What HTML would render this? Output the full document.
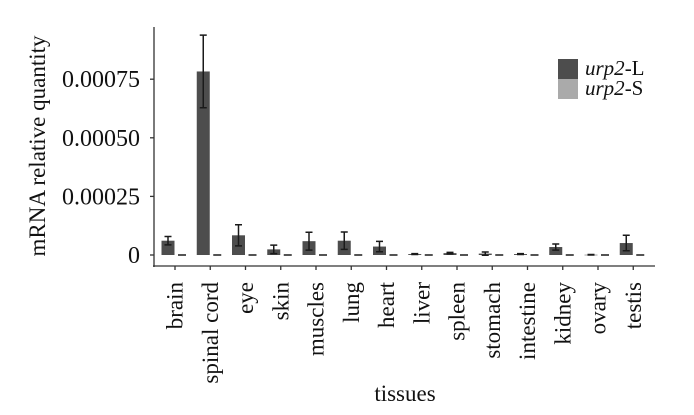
<!DOCTYPE html>
<html><head><meta charset="utf-8"><style>
body{margin:0;background:#fff;}
svg{display:block;font-family:"Liberation Serif",serif;}
</style></head><body>
<svg id="chart" width="694" height="415" viewBox="0 0 694 415">
<g id="plot"></g>
</svg>
<script>
const categories=["brain","spinal cord","eye","skin","muscles","lung","heart","liver","spleen","stomach","intestine","kidney","ovary","testis"];
const seriesL=[6.1e-5,7.83e-4,8.4e-5,2.4e-5,5.9e-5,6.1e-5,3.6e-5,4e-6,8e-6,6e-6,4e-6,3.4e-5,1e-6,5.1e-5];
const errL=[1.8e-5,1.55e-4,4.5e-5,1.8e-5,3.8e-5,3.7e-5,2.2e-5,2e-6,3e-6,7e-6,2e-6,1.3e-5,1e-6,3.3e-5];
const seriesS=[0,0,0,0,0,0,0,0,0,0,0,0,0,0];
const yTicks=[0,0.00025,0.0005,0.00075];
const yTickLabels=["0","0.00025","0.00050","0.00075"];
const NS="http://www.w3.org/2000/svg";
const g=document.getElementById('plot');
const x0=154,x1=655,yTop=27,yAxis=266;
const y=v=>255-v*(58.6/0.00025);
const xc=i=>175+i*35.25;
function mk(t,a){const e=document.createElementNS(NS,t);for(const k in a)e.setAttribute(k,a[k]);g.appendChild(e);return e;}
let ax=mk('line',{x1:x0,y1:yTop,x2:x0,y2:yAxis+1,stroke:'#333','stroke-width':1.3});


ax=mk('line',{x1:x0-1,y1:yAxis,x2:x1,y2:yAxis,stroke:'#333','stroke-width':1.3});


yTicks.forEach((v,i)=>{
  const t=mk('line',{x1:x0-4,y1:y(v),x2:x0,y2:y(v),stroke:'#333','stroke-width':1.3});
  
  
  const l=mk('text',{x:140,y:y(v)+8,'text-anchor':'end','font-size':24,fill:'#111'});
  l.textContent=yTickLabels[i];
  
  
});
categories.forEach((c,i)=>{
  const cx=xc(i);
  const t=mk('line',{x1:cx,y1:yAxis,x2:cx,y2:yAxis+4,stroke:'#333','stroke-width':1.3});
  
  
  const l=mk('text',{x:0,y:0,'text-anchor':'end','font-size':23,fill:'#111',transform:`translate(${cx+7.5},282) rotate(-90)`});
  l.textContent=c;
  
  
  const v=seriesL[i];
  const b=mk('rect',{x:cx-13.5,y:y(v),width:13,height:Math.max(255-y(v),0.5),fill:'#4d4d4d'});
  
  
  const e=errL[i],ex=cx-7;
  const eb=mk('path',{d:`M${ex},${y(v+e)}V${y(v-e)}M${ex-3.5},${y(v+e)}H${ex+3.5}M${ex-3.5},${y(v-e)}H${ex+3.5}`,stroke:'#1a1a1a','stroke-width':1.5,fill:'none'});
  
  
  const s=seriesS[i];
  const sb=mk('rect',{x:cx+0.5,y:y(s),width:13,height:Math.max(255-y(s),0),fill:'#aaaaaa'});
  
  
  const sd=mk('line',{x1:cx+3,y1:y(s),x2:cx+11,y2:y(s),stroke:'#1a1a1a','stroke-width':1.5});
  
  
});
let tt=mk('text',{x:0,y:0,'text-anchor':'middle','font-size':23,fill:'#111',transform:'translate(45,146) rotate(-90)'});
tt.textContent='mRNA relative quantity';


tt=mk('text',{x:405,y:401,'text-anchor':'middle','font-size':23,fill:'#111'});
tt.textContent='tissues';


const leg=[['urp2','-L','#4d4d4d',59],['urp2','-S','#aaaaaa',79]];
leg.forEach(([a,b2,col,yy])=>{
  const r=mk('rect',{x:558,y:yy,width:20,height:20,fill:col});
  
  
  const t=mk('text',{x:585,y:yy+16,'font-size':21,fill:'#111'});
  t.innerHTML=`<tspan font-style="italic">${a}</tspan>${b2}`;
  
  
});
</script>
</body></html>
